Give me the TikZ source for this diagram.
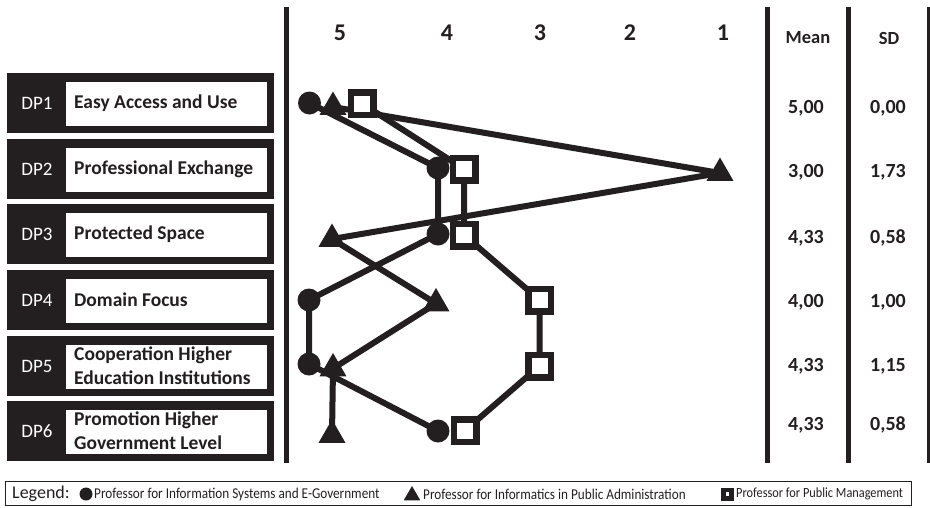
\documentclass[tikz,border=0pt]{standalone}
\usepackage{fontspec}
\setmainfont{Carlito}
\newfontfamily\legfont[FakeStretch=0.88]{Carlito}
\usetikzlibrary{shapes.geometric,backgrounds}
\definecolor{ink}{HTML}{231F20}
\begin{document}
\begin{tikzpicture}[x=1pt,y=-1pt,
  vline/.style={line width=5pt, draw=ink},
  conn/.style={line width=6pt, draw=ink, line join=round},
  outerbox/.style={fill=ink, inner sep=0pt, minimum width=267pt, minimum height=60pt, anchor=north west},
  innerbox/.style={fill=white, inner sep=0pt, minimum width=201pt, minimum height=44pt, anchor=north west},
  dptext/.style={text=white, inner sep=0pt, font=\fontsize{19}{23}\selectfont},
  labtext/.style={text=ink, inner sep=0pt, anchor=west, align=left, font=\bfseries\fontsize{19.5}{24}\selectfont},
  hdr/.style={text=ink, inner sep=0pt, font=\bfseries\fontsize{24}{24}\selectfont},
  colhdr/.style={text=ink, inner sep=0pt, font=\bfseries\fontsize{18.5}{20}\selectfont},
  val/.style={text=ink, inner sep=0pt, font=\bfseries\fontsize{20}{20}\selectfont},
  circ/.style={circle, fill=ink, minimum size=23pt, inner sep=0pt},
  tri/.style={regular polygon, regular polygon sides=3, fill=ink, minimum size=31pt, inner sep=0pt},
  sq/.style={rectangle, draw=ink, fill=white, line width=6.5pt, minimum size=22.5pt, inner sep=0pt},
  legtext/.style={text=ink, inner sep=0pt, anchor=west, font=\legfont\fontsize{15}{15}\selectfont},
]
\useasboundingbox (0,0) rectangle (930,507);

% vertical rules
\foreach \k/\x in {1/286.5, 2/767.5, 3/848.5, 4/929} {
  \coordinate (va\k) at (\x,7);
  \coordinate (vb\k) at (\x,463);
  \draw[vline] (va\k) -- (vb\k);
}

% header
\node[hdr] (h5) at (340,33) {5};
\node[hdr] (h4) at (447,33) {4};
\node[hdr] (h3) at (540,33) {3};
\node[hdr] (h2) at (630,33) {2};
\node[hdr] (h1) at (723,33) {1};
\node[colhdr] (hmean) at (808,38) {Mean};
\node[colhdr] (hsd) at (889,38) {SD};

% rows
\foreach \i/\t/\lab in {1/73/{Easy Access and Use}, 2/139/{Professional Exchange}, 3/204/{Protected Space}, 4/270/{Domain Focus}, 5/336/{Cooperation Higher\\Education Institutions}, 6/401/{Promotion Higher\\Government Level}} {
  \node[outerbox] (row\i) at (7,\t) {};
  \node[innerbox] (box\i) at (66,{\t+8.5}) {};
  \node[dptext] (dp\i) at (37,{\t+30}) {DP\i};
  \node[labtext] (lab\i) at (74,{\t+30}) {\lab};
}

% mean / sd values
\foreach \i/\y/\m/\s in {1/108/{5,00}/{0,00}, 2/172/{3,00}/{1,73}, 3/238/{4,33}/{0,58}, 4/302/{4,00}/{1,00}, 5/366/{4,33}/{1,15}, 6/425/{4,33}/{0,58}} {
  \node[val] (m\i) at (806,\y) {\m};
  \node[val] (s\i) at (888,\y) {\s};
}

% markers: circles
\node[circ] (c1) at (309.5,103) {};
\node[circ] (c2) at (438,168) {};
\node[circ] (c3) at (438,234) {};
\node[circ] (c4) at (309,300) {};
\node[circ] (c5) at (309,364) {};
\node[circ] (c6) at (438,431) {};
% triangles
\node[tri] (t1) at (333,107) {};
\node[tri] (t2) at (720,173) {};
\node[tri] (t3) at (332,239) {};
\node[tri] (t4) at (436,303.5) {};
\node[tri] (t5) at (333,368.5) {};
\node[tri] (t6) at (332,435) {};
% squares
\node[sq] (q1) at (362,103.5) {};
\node[sq] (q2) at (464,169) {};
\node[sq] (q3) at (464,235) {};
\node[sq] (q4) at (539.5,300) {};
\node[sq] (q5) at (539.5,366) {};
\node[sq] (q6) at (465,430.5) {};

\begin{scope}[on background layer]
  \draw[conn] (c1.center) -- (c2.center) -- (c3.center) -- (c4.center) -- (c5.center) -- (c6.center);
  \draw[conn] (t1.center) -- (t2.center) -- (t3.center) -- (t4.center) -- (t5.center) -- (t6.center);
  \draw[conn] (q1.center) -- (q2.center) -- (q3.center) -- (q4.center) -- (q5.center) -- (q6.center);
\end{scope}

% legend
\node[draw=ink, line width=0.8pt, inner sep=0pt, anchor=north west, minimum width=906pt, minimum height=24pt] (legbox) at (5,481) {};
\node[text=ink, inner sep=0pt, anchor=west, font=\fontsize{18}{18}\selectfont] (legt) at (12,494) {Legend:};
\node[circ, minimum size=13pt] (lc) at (86,494) {};
\node[legtext] (lt1) at (94,494) {Professor for Information Systems and E-Government};
\node[tri, minimum size=19pt] (ltr) at (412,495.5) {};
\node[legtext] (lt2) at (423,494) {Professor for Informatics in Public Administration};
\node[fill=ink, minimum size=13pt, inner sep=0pt] (lsq) at (727,494) {};
\node[fill=white, minimum width=3pt, minimum height=4pt, inner sep=0pt] (lsqi) at (727,494) {};
\node[legtext, font=\legfont\fontsize{14}{14}\selectfont] (lt3) at (736,494) {Professor for Public Management};
\end{tikzpicture}
\end{document}
